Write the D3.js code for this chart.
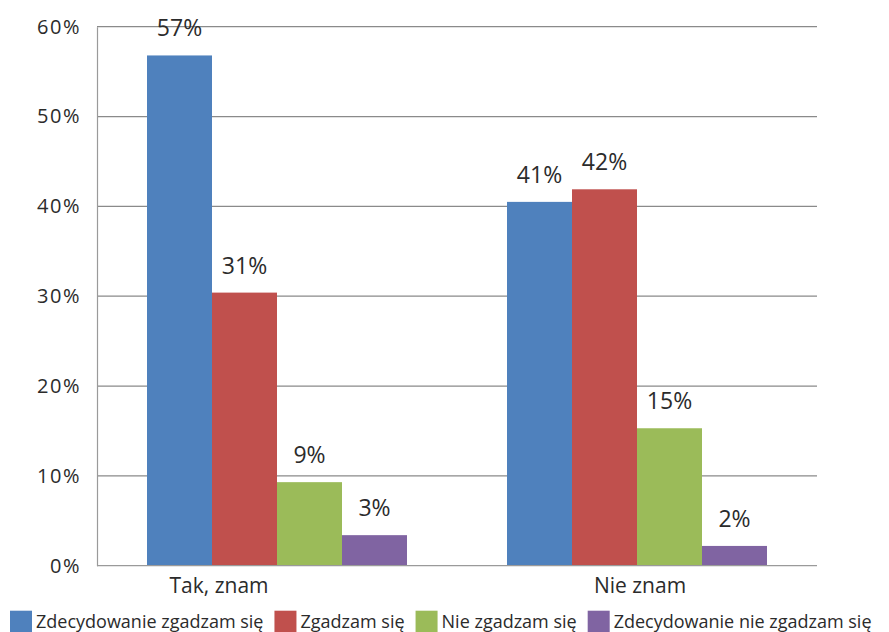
<!DOCTYPE html>
<html>
<head>
<meta charset="utf-8">
<script src="https://cdn.jsdelivr.net/npm/d3@7"></script>
<style>
  html, body { margin: 0; padding: 0; background: #fff; }
  svg { display: block; }
  text { font-family: "Open Sans", sans-serif; fill: #2b2b2b; }
</style>
</head>
<body>
<svg id="chart" width="889" height="632"></svg>
<script>
// ---- data ----
const categories = ["Tak, znam", "Nie znam"];
const series = ["Zdecydowanie zgadzam się", "Zgadzam się", "Nie zgadzam się", "Zdecydowanie nie zgadzam się"];
const values = [
  [56.8, 30.4, 9.3, 3.4],   // Tak, znam
  [40.5, 41.9, 15.3, 2.2]   // Nie znam
];
const valueLabels = [
  ["57%", "31%", "9%", "3%"],
  ["41%", "42%", "15%", "2%"]
];
const yTicks = [0, 10, 20, 30, 40, 50, 60];
const yTickLabels = ["0%", "10%", "20%", "30%", "40%", "50%", "60%"];
const colors = ["#4F81BD", "#C0504D", "#9BBB59", "#8064A2"];

// ---- layout ----
const W = 889, H = 632;
const plot = { left: 97, right: 817, top: 26.7, bottom: 565.7 };
const svg = d3.select("#chart");

const x0 = d3.scaleBand()
  .domain(categories)
  .range([plot.left, plot.right])
  .paddingInner(100 / 360)
  .paddingOuter(50 / 360);
const x1 = d3.scaleBand()
  .domain(series)
  .range([0, x0.bandwidth()]);
const y = d3.scaleLinear().domain([0, 60]).range([plot.bottom, plot.top]);

// gridlines
svg.append("g").selectAll("line")
  .data(yTicks.filter(t => t > 0))
  .join("line")
  .attr("x1", plot.left).attr("x2", plot.right)
  .attr("y1", d => y(d)).attr("y2", d => y(d))
  .attr("stroke", "#8a8a8a").attr("stroke-width", 1.2);

// y axis
const yAxis = d3.axisLeft(y).tickValues(yTicks).tickSize(0).tickPadding(16)
  .tickFormat((d, i) => yTickLabels[i]);
const gy = svg.append("g").attr("transform", `translate(${plot.left},0)`).call(yAxis);
gy.select(".domain").attr("stroke", "#9a9a9a").attr("stroke-width", 1.2);
gy.selectAll("text").attr("font-size", 20).attr("letter-spacing", 1.5)
  .attr("font-family", '"Open Sans", sans-serif').attr("fill", "#2b2b2b");

// bars
const groups = svg.append("g").selectAll("g")
  .data(categories)
  .join("g")
  .attr("transform", d => `translate(${x0(d)},0)`);

groups.selectAll("rect")
  .data((c, ci) => series.map((s, si) => ({ s, si, v: values[ci][si], lab: valueLabels[ci][si] })))
  .join("rect")
  .attr("x", d => x1(d.s))
  .attr("width", x1.bandwidth())
  .attr("y", d => y(d.v))
  .attr("height", d => y(0) - y(d.v))
  .attr("fill", d => colors[d.si]);

// x axis line
svg.append("line")
  .attr("x1", plot.left).attr("x2", plot.right)
  .attr("y1", y(0)).attr("y2", y(0))
  .attr("stroke", "#9a9a9a").attr("stroke-width", 1.2);

// value labels
groups.selectAll("text.val")
  .data((c, ci) => series.map((s, si) => ({ s, si, v: values[ci][si], lab: valueLabels[ci][si] })))
  .join("text")
  .attr("class", "val")
  .attr("x", d => x1(d.s) + x1.bandwidth() / 2)
  .attr("y", d => y(d.v) - 19)
  .attr("text-anchor", "middle")
  .attr("font-size", 23)
  .text(d => d.lab);

// category labels (first label sits left of its group center in the original)
const catShift = [-58, 3];
svg.append("g").selectAll("text")
  .data(categories)
  .join("text")
  .attr("x", (d, i) => x0(d) + x0.bandwidth() / 2 + catShift[i])
  .attr("y", 593)
  .attr("text-anchor", "middle")
  .attr("font-size", 21)
  .text(d => d);

// legend (flow layout)
const legend = svg.append("g");
let lx = 10;
series.forEach((s, i) => {
  legend.append("rect")
    .attr("x", lx).attr("y", 610.7)
    .attr("width", 22).attr("height", 22)
    .attr("fill", colors[i]);
  const t = legend.append("text")
    .attr("x", lx + 26).attr("y", 628.3)
    .attr("font-size", 18)
    .text(s);
  lx += 26 + t.node().getComputedTextLength() + 11;
});
</script>
</body>
</html>
